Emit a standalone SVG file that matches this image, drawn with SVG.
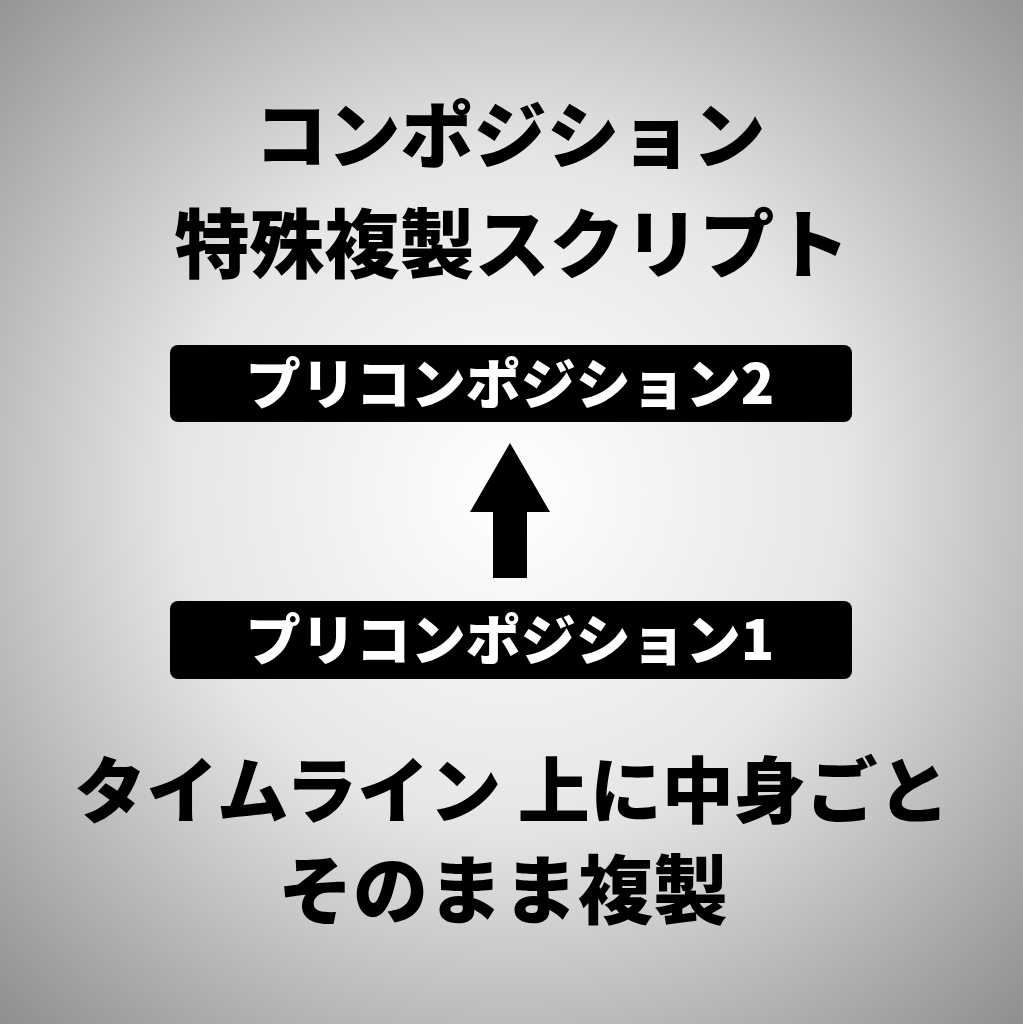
<svg xmlns="http://www.w3.org/2000/svg" width="1023" height="1024" viewBox="0 0 1023 1024">
<defs>
<radialGradient id="bg" cx="50%" cy="48%" r="72%">
<stop offset="0" stop-color="#ffffff"/><stop offset="0.45" stop-color="#e6e6e6"/><stop offset="1" stop-color="#8f8f8f"/>
</radialGradient>
<style>
.t{font-family:"Noto Sans CJK JP",sans-serif;font-weight:900;fill:#000;text-anchor:middle}
.b{font-family:"Noto Sans CJK JP",sans-serif;font-weight:900;fill:#fff;text-anchor:middle;font-size:55px}
</style>
</defs>
<rect width="1023" height="1024" fill="url(#bg)"/>
<text class="t" x="510" y="162" font-size="73">コンポジション</text>
<text class="t" x="512" y="272" font-size="75">特殊複製スクリプト</text>
<g id="node2"><rect x="170" y="345" width="682" height="77" rx="8" fill="#000"/><text class="b" x="510" y="404">プリコンポジション2</text></g>
<g id="node1"><rect x="170" y="601" width="682" height="78" rx="8" fill="#000"/><text class="b" x="510" y="660">プリコンポジション1</text></g>
<g id="connectors"><path d="M493 578V512H470L510 443L550 512H527V578Z" fill="#000"/></g>
<text class="t" x="512" y="817" font-size="72">タイムライン 上に中身ごと</text>
<text class="t" x="503" y="918" font-size="75">そのまま複製</text>
</svg>
